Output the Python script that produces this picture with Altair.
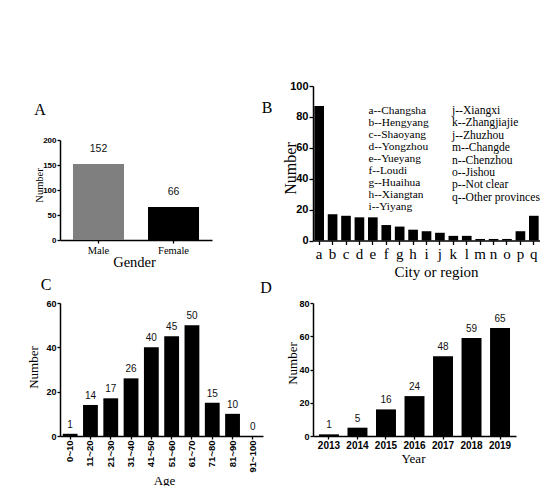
import altair as alt
import pandas as pd

W, H = 532, 478
SERIF = "Liberation Serif"
SANS = "Liberation Sans"

# ---------------- data ----------------
gender = ["Male", "Female"]
gender_n = [152, 66]

cities = list("abcdefghijklmnopq")
city_n = [87, 17, 16, 15, 15, 10, 9, 7, 6, 5, 3, 3, 1, 1, 1, 6, 16]

legend_left = ["a--Changsha", "b--Hengyang", "c--Shaoyang", "d--Yongzhou",
               "e--Yueyang", "f--Loudi", "g--Huaihua", "h--Xiangtan", "i--Yiyang"]
legend_right = ["j--Xiangxi", "k--Zhangjiajie", "j--Zhuzhou", "m--Changde",
                "n--Chenzhou", "o--Jishou", "p--Not clear", "q--Other provinces"]

ages = ["0~10", "11~20", "21~30", "31~40", "41~50", "51~60", "61~70",
        "71~80", "81~90", "91~100"]
age_n = [1, 14, 17, 26, 40, 45, 50, 15, 10, 0]

years = ["2013", "2014", "2015", "2016", "2017", "2018", "2019"]
year_n = [1, 5, 16, 24, 48, 59, 65]

df_a = pd.DataFrame({"cat": gender, "n": gender_n})
df_b = pd.DataFrame({"cat": cities, "n": city_n})
df_c = pd.DataFrame({"cat": ages, "n": age_n})
df_d = pd.DataFrame({"cat": years, "n": year_n})


def panel(df, order, xr, yr, ydom, yvals, pi, po, xoff, yoff,
          xtitle, xtx, xty, xts, ytx, yty, yts,
          xlab_font, xlab_size, xlab_weight, ylab_size,
          xlab_angle=0, label_size=None, label_dy=-9, color=None, tick=3, xlabpad=2):
    xaxis = dict(orient="bottom", offset=xoff, title=xtitle,
                 titleFont=SERIF, titleFontSize=xts, titleFontWeight="normal",
                 titleColor="black", titleX=xtx, titleY=xty,
                 titleAlign="center", titleBaseline="middle",
                 labelFont=xlab_font, labelFontSize=xlab_size,
                 labelFontWeight=xlab_weight, labelColor="black",
                 labelPadding=xlabpad, labelOverlap=False,
                 domainColor="black", domainWidth=1.5,
                 tickColor="black", tickWidth=1.3, tickSize=tick, grid=False)
    if xlab_angle:
        xaxis.update(labelAngle=xlab_angle, labelAlign="right", labelBaseline="middle")
    else:
        xaxis.update(labelAngle=0, labelAlign="center", labelBaseline="top")
    yaxis = dict(orient="left", offset=yoff, title="Number",
                 titleFont=SERIF, titleFontSize=yts, titleFontWeight="normal",
                 titleColor="black", titleX=ytx, titleY=yty, titleAngle=270,
                 titleAlign="center", titleBaseline="middle",
                 values=yvals, labelFont=SANS, labelFontSize=ylab_size,
                 labelFontWeight="bold", labelColor="black", labelPadding=1,
                 domainColor="black", domainWidth=1.5,
                 tickColor="black", tickWidth=1.3, tickSize=tick, grid=False)
    x = alt.X("cat:N", sort=order,
              scale=alt.Scale(range=xr, paddingInner=pi, paddingOuter=po),
              axis=alt.Axis(**xaxis))
    y = alt.Y("n:Q", scale=alt.Scale(domain=ydom, range=yr, nice=False),
              axis=alt.Axis(**yaxis))
    base = alt.Chart(df)
    if color is not None:
        bars = base.mark_bar().encode(
            x=x, y=y,
            color=alt.Color("cat:N", scale=alt.Scale(domain=order, range=color),
                            legend=None))
    else:
        bars = base.mark_bar(color="black").encode(x=x, y=y)
    if label_size is None:
        return bars
    labels = base.mark_text(font=SANS, fontSize=label_size, dy=label_dy,
                            baseline="middle", color="#111").encode(
        x=alt.X("cat:N", sort=order), y="n:Q", text="n:Q")
    return alt.layer(bars, labels)


def P(v):
    return v - 8


pa = panel(df_a, gender, [P(60), P(212)], [P(240), P(140)], [0, 200],
           [0, 50, 100, 150, 200], 0.32, 0.173, P(240) - H, -P(60),
           "Gender", P(134), 22, 14.5, -21, P(185), 10.5,
           SERIF, 10.5, "normal", 8, label_size=10.5, label_dy=-15,
           color=["#7f7f7f", "#000000"], tick=3, xlabpad=2)

pb = panel(df_b, cities, [P(313), P(540)], [P(240.5), P(86)], [0, 100],
           [0, 20, 40, 60, 80, 100], 0.28, 0.1, P(240.5) - H, -P(313),
           "City or region", P(436), 31, 15, -23, P(168), 16,
           SERIF, 15, "normal", 11, tick=4, xlabpad=2)

pc = panel(df_c, ages, [P(60), P(263)], [P(436), P(303)], [0, 60],
           [0, 20, 40, 60], 0.27, 0.135, P(436) - H, -P(60),
           "Age", P(164), 44, 13, -27, P(367), 13,
           SANS, 9.5, "bold", 9, xlab_angle=270, label_size=10, label_dy=-9,
           tick=3, xlabpad=1)

pd_ = panel(df_d, years, [P(313), P(516)], [P(436), P(303)], [0, 80],
            [0, 20, 40, 60, 80], 0.3, 0.21, P(436) - H, -P(313),
            "Year", P(413), 22, 13, -21, P(363), 13,
            SANS, 10, "bold", 9, label_size=10, label_dy=-9,
            tick=3, xlabpad=1)

one = pd.DataFrame({"k": [0]})


def note(text, x, y, size, **kw):
    return alt.Chart(one).mark_text(text=text, font=SERIF, fontSize=size,
                                    color="black", **kw).encode(
        x=alt.value(x), y=alt.value(y))


letters = [
    note("A", P(40), P(110), 16),
    note("B", P(267), P(108), 16),
    note("C", P(46), P(285), 16),
    note("D", P(266), P(288), 16),
]
leg1 = alt.Chart(one).mark_text(text=legend_left, font=SERIF, fontSize=11.4,
                                align="left", baseline="top", lineHeight=12.1,
                                color="black").encode(
    x=alt.value(P(368.5)), y=alt.value(P(104.5)))
leg2 = alt.Chart(one).mark_text(text=legend_right, font=SERIF, fontSize=11.6,
                                align="left", baseline="top", lineHeight=12.4,
                                color="black").encode(
    x=alt.value(P(452)), y=alt.value(P(105)))

chart = alt.layer(pa, pb, pc, pd_, *letters, leg1, leg2).resolve_scale(
    x="independent", y="independent", color="independent"
).resolve_axis(x="independent", y="independent").properties(
    width=W, height=H, padding=0, autosize=alt.AutoSizeParams(type="none"),
    background="white"
).configure_view(stroke=None)

chart.save("out.html", embed_options={"renderer": "svg", "actions": False})
